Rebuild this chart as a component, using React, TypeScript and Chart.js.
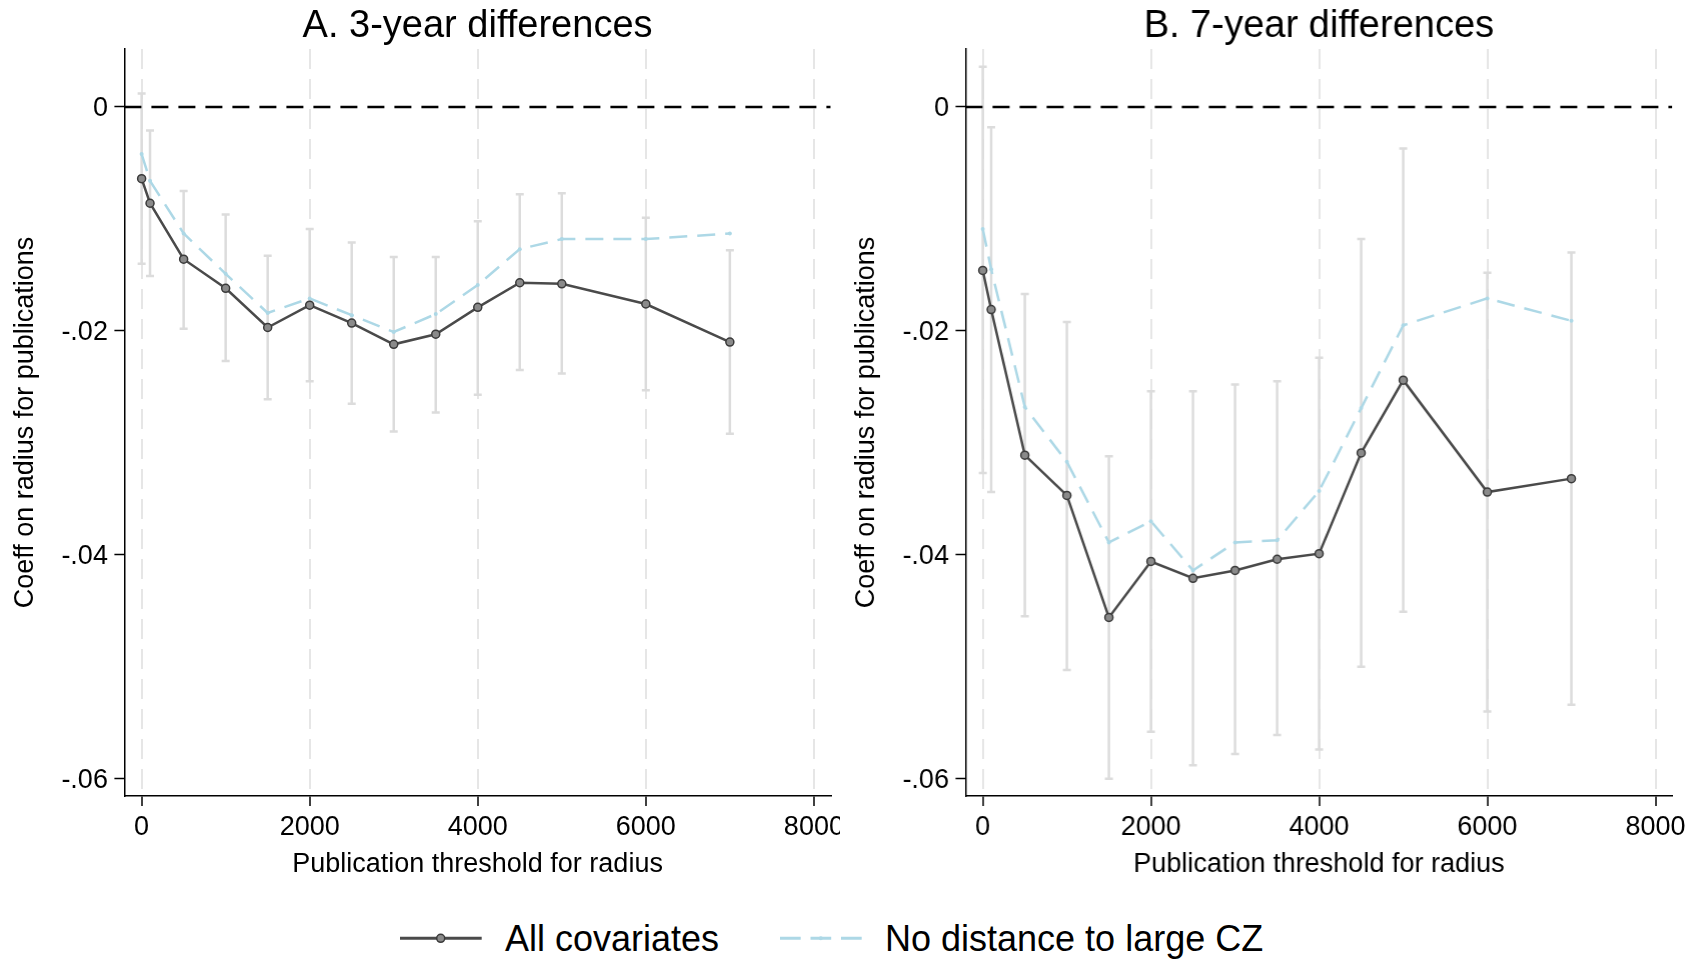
import React, { useEffect, useRef } from "react";
import { Chart, registerables } from "chart.js";

Chart.register(...registerables);

// ---------- data ----------
const thresholds = [0, 100, 500, 1000, 1500, 2000, 2500, 3000, 3500, 4000, 4500, 5000, 6000, 7000];

// Panel A: 3-year differences
const allCov3 = [-0.0064, -0.0086, -0.0136, -0.0162, -0.0197, -0.0177, -0.0193, -0.0212, -0.0203, -0.0179, -0.0157, -0.0158, -0.0176, -0.021];
const noDist3 = [-0.0042, -0.0066, -0.0113, -0.0149, -0.0184, -0.0171, -0.0186, -0.0201, -0.0185, -0.0159, -0.0127, -0.0118, -0.0118, -0.0113];
const ciLo3 = [-0.014, -0.0151, -0.0198, -0.0227, -0.0261, -0.0245, -0.0265, -0.029, -0.0273, -0.0257, -0.0235, -0.0238, -0.0253, -0.0292];
const ciHi3 = [0.0012, -0.0021, -0.0075, -0.0096, -0.0133, -0.0109, -0.0121, -0.0134, -0.0134, -0.0102, -0.0078, -0.0077, -0.0099, -0.0128];

// Panel B: 7-year differences
const allCov7 = [-0.0146, -0.0181, -0.0311, -0.0347, -0.0456, -0.0406, -0.0421, -0.0414, -0.0404, -0.0399, -0.0309, -0.0244, -0.0344, -0.0332];
const noDist7 = [-0.0109, -0.0145, -0.0268, -0.0317, -0.0389, -0.037, -0.0414, -0.0389, -0.0387, -0.0343, -0.0269, -0.0195, -0.0171, -0.0191];
const ciLo7 = [-0.0327, -0.0344, -0.0455, -0.0503, -0.06, -0.0558, -0.0588, -0.0578, -0.0561, -0.0574, -0.05, -0.0451, -0.054, -0.0534];
const ciHi7 = [0.0036, -0.0018, -0.0167, -0.0192, -0.0312, -0.0254, -0.0254, -0.0248, -0.0245, -0.0224, -0.0118, -0.0037, -0.0148, -0.013];

const xTickValues = [0, 2000, 4000, 6000, 8000];
const yTickValues = [0, -0.02, -0.04, -0.06];
const panelTitles = ["A. 3-year differences", "B. 7-year differences"];
const xAxisTitle = "Publication threshold for radius";
const yAxisTitle = "Coeff on radius for publications";
const legendLabels = ["All covariates", "No distance to large CZ"];

const X_MIN = -205;
const X_MAX = 8200;
const Y_MIN = -0.06155;
const Y_MAX = 0.00518;

const FONT = "'Liberation Sans', Arial, Helvetica, sans-serif";
const DARK = "#4a4a4a";
const BLUE = "#add8e6";
const CANVAS_H = 890;

function fmtY(v: number): string {
  if (Math.abs(v) < 1e-12) return "0";
  const s = Math.abs(v).toFixed(2).replace(/^0/, "");
  return (v < 0 ? "-" : "") + s;
}

type PanelProps = {
  left: number;
  width: number;
  padRight: number;
  title: string;
  allCov: number[];
  noDist: number[];
  ciLo: number[];
  ciHi: number[];
};

function Panel({ left, width, padRight, title, allCov, noDist, ciLo, ciHi }: PanelProps) {
  const ref = useRef<HTMLCanvasElement | null>(null);

  useEffect(() => {
    const canvas = ref.current;
    if (!canvas) return;

    const errorBars = {
      id: "errorBars",
      beforeDatasetsDraw(chart: any) {
        const { ctx } = chart;
        const xs = chart.scales.x;
        const ys = chart.scales.y;
        ctx.save();
        ctx.strokeStyle = "#dcdcdc";
        ctx.lineWidth = 2.5;
        const cap = 4;
        for (let i = 0; i < thresholds.length; i++) {
          const px = xs.getPixelForValue(thresholds[i]);
          const p1 = ys.getPixelForValue(ciLo[i]);
          const p2 = ys.getPixelForValue(ciHi[i]);
          ctx.beginPath();
          ctx.moveTo(px, p1);
          ctx.lineTo(px, p2);
          ctx.moveTo(px - cap, p1);
          ctx.lineTo(px + cap, p1);
          ctx.moveTo(px - cap, p2);
          ctx.lineTo(px + cap, p2);
          ctx.stroke();
        }
        ctx.restore();
      },
    };

    const chart = new Chart(canvas, {
      type: "line",
      data: {
        datasets: [
          {
            label: legendLabels[0],
            data: thresholds.map((t, i) => ({ x: t, y: allCov[i] })),
            borderColor: DARK,
            borderWidth: 2.5,
            pointRadius: 4,
            pointBackgroundColor: "#8a8a8a",
            pointBorderColor: "#3a3a3a",
            pointBorderWidth: 1.5,
            tension: 0,
          },
          {
            label: legendLabels[1],
            data: thresholds.map((t, i) => ({ x: t, y: noDist[i] })),
            borderColor: BLUE,
            borderWidth: 2.5,
            borderDash: [18, 10],
            pointRadius: 2,
            pointBackgroundColor: BLUE,
            pointBorderWidth: 0,
            tension: 0,
          },
          {
            label: "zero",
            data: [
              { x: X_MIN, y: 0 },
              { x: X_MAX, y: 0 },
            ],
            borderColor: "#000",
            borderWidth: 2.5,
            borderDash: [17, 10],
            pointRadius: 0,
          },
        ],
      },
      options: {
        responsive: false,
        animation: false,
        devicePixelRatio: 1,
        layout: { padding: { left: 0, right: padRight, top: 0, bottom: 0 } },
        plugins: {
          legend: { display: false },
          tooltip: { enabled: false },
          title: {
            display: true,
            text: title,
            fullSize: false,
            color: "#000",
            font: { family: FONT, size: 38, weight: "normal", lineHeight: 1.1 },
            padding: { top: 5.5, bottom: 1.7 },
          },
        },
        scales: {
          x: {
            type: "linear",
            min: X_MIN,
            max: X_MAX,
            afterBuildTicks: (s: any) => {
              s.ticks = xTickValues.map((v) => ({ value: v }));
            },
            afterFit: (s: any) => {
              s.height = CANVAS_H - 796;
              s.paddingLeft = 0;
              s.paddingRight = 0;
            },
            ticks: {
              color: "#000",
              font: { family: FONT, size: 27 },
              padding: 5.5,
              maxRotation: 0,
              autoSkip: false,
              callback: (v: any) => String(v),
            },
            grid: {
              display: true,
              drawOnChartArea: true,
              drawTicks: true,
              color: "#e6e6e6",
              lineWidth: 2,
              tickLength: 10,
              tickColor: "#000",
              tickWidth: 1.5,
              tickBorderDash: [],
            },
            border: { display: true, color: "#000", width: 1.5, dash: [20, 10] },
            title: {
              display: true,
              text: xAxisTitle,
              color: "#000",
              font: { family: FONT, size: 27 },
              padding: { top: 0, bottom: 9.5 },
            },
          },
          y: {
            type: "linear",
            min: Y_MIN,
            max: Y_MAX,
            afterBuildTicks: (s: any) => {
              s.ticks = yTickValues.map((v) => ({ value: v }));
            },
            afterFit: (s: any) => {
              s.width = 124.4;
              s.paddingTop = 0;
              s.paddingBottom = 0;
            },
            ticks: {
              color: "#000",
              font: { family: FONT, size: 27 },
              padding: 6.5,
              labelOffset: 2,
              autoSkip: false,
              callback: (v: any) => fmtY(Number(v)),
            },
            grid: {
              display: true,
              drawOnChartArea: false,
              drawTicks: true,
              tickLength: 10,
              tickColor: "#000",
              tickWidth: 1.5,
            },
            border: { display: true, color: "#000", width: 1.5 },
            title: {
              display: true,
              text: yAxisTitle,
              color: "#000",
              font: { family: FONT, size: 27 },
              padding: { top: 9.5, bottom: 0 },
            },
          },
        },
      },
      plugins: [errorBars],
    } as any);

    return () => chart.destroy();
  }, []);

  return (
    <canvas
      ref={ref}
      width={width}
      height={CANVAS_H}
      style={{ position: "absolute", left, top: 0, width, height: CANVAS_H }}
    />
  );
}

function Legend() {
  const textStyle: React.CSSProperties = {
    position: "absolute",
    top: 920.5,
    fontFamily: FONT,
    fontSize: 36,
    lineHeight: "36px",
    color: "#000",
    whiteSpace: "nowrap",
  };
  return (
    <>
      <svg
        width={1704}
        height={61}
        style={{ position: "absolute", left: 0, top: 900 }}
      >
        <line x1={400} y1={38.3} x2={481.7} y2={38.3} stroke={DARK} strokeWidth={3} />
        <circle cx={440.7} cy={38.3} r={4} fill="#8a8a8a" stroke="#3a3a3a" strokeWidth={1.5} />
        <line
          x1={780}
          y1={38.3}
          x2={861.7}
          y2={38.3}
          stroke={BLUE}
          strokeWidth={3}
          strokeDasharray="20.7 9.8"
        />
        <circle cx={820.8} cy={38.3} r={2} fill={BLUE} />
      </svg>
      <span style={{ ...textStyle, left: 505 }}>{legendLabels[0]}</span>
      <span style={{ ...textStyle, left: 885 }}>{legendLabels[1]}</span>
    </>
  );
}

export default function App() {
  return (
    <div
      style={{
        position: "fixed",
        left: 0,
        top: 0,
        width: 1704,
        height: 961,
        background: "#fff",
        overflow: "hidden",
      }}
    >
      <Panel
        left={0}
        width={840}
        padRight={840 - 830.7}
        title={panelTitles[0]}
        allCov={allCov3}
        noDist={noDist3}
        ciLo={ciLo3}
        ciHi={ciHi3}
      />
      <Panel
        left={841.3}
        width={862.7}
        padRight={862.7 - 831}
        title={panelTitles[1]}
        allCov={allCov7}
        noDist={noDist7}
        ciLo={ciLo7}
        ciHi={ciHi7}
      />
      <Legend />
    </div>
  );
}
